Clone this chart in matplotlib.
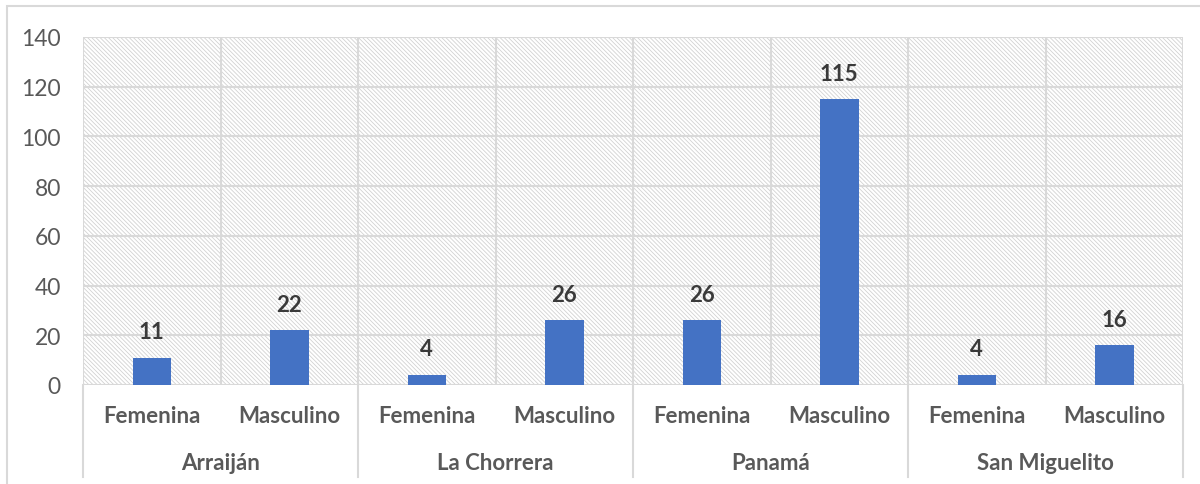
import matplotlib.pyplot as plt
from matplotlib.lines import Line2D
from matplotlib.patches import Rectangle

# data
groups = ["Arraiján", "La Chorrera", "Panamá", "San Miguelito"]
sexes = ["Femenina", "Masculino"]
values = [11, 22, 4, 26, 26, 115, 4, 16]

plt.rcParams['font.family'] = ['Lato', 'DejaVu Sans']
plt.rcParams['hatch.linewidth'] = 0.6

fig = plt.figure(figsize=(12, 4.85), dpi=100)
ax = fig.add_axes([83 / 1200, 1 - 386 / 485, 1100 / 1200, 348 / 485])

grid_c = '#d9d9d9'
ax.patch.set_facecolor('white')
ax.patch.set_edgecolor('#d2d2d2')
ax.patch.set_hatch('\\' * 8)
ax.patch.set_linewidth(0)

n = len(values)
x = list(range(n))
ax.bar(x, values, width=0.28, color='#4472c4', zorder=3)
for xi, v in zip(x, values):
    ax.text(xi, v + 10.5, str(v), ha='center', va='center', fontsize=16,
            fontweight='bold', color='#3a3a3a', zorder=4)

ax.set_xlim(-0.5, n - 0.5)
ax.set_ylim(0, 140)
ax.set_yticks(range(0, 141, 20))
ax.tick_params(axis='y', length=0, labelsize=16.5, labelcolor='#595959', pad=16)
ax.set_xticks([])
for s in ax.spines.values():
    s.set_visible(False)

# gridlines
for yv in range(20, 141, 20):
    ax.axhline(yv, color=grid_c, lw=1.5, zorder=1)
for b in range(n + 1):
    ax.axvline(b - 0.5, color=grid_c, lw=1.5, zorder=1)
ax.axhline(0, color=grid_c, lw=1.5, zorder=2)

# category labels
trans = ax.get_xaxis_transform()
for i in range(n):
    ax.text(i, -31 / 348, sexes[i % 2], transform=trans, ha='center', va='center',
            fontsize=16, fontweight='bold', color='#595959')
for g, name in enumerate(groups):
    ax.text(2 * g + 0.5, -78 / 348, name, transform=trans, ha='center', va='center',
            fontsize=16, fontweight='bold', color='#595959')
for g in range(len(groups) + 1):
    ax.add_line(Line2D([2 * g - 0.5, 2 * g - 0.5], [0, -92 / 348], transform=trans,
                       color=grid_c, lw=1.5, clip_on=False))

# outer chart border
fig.patches.append(Rectangle((7 / 1200, -0.1), 1.2, 1 - 7 / 485 + 0.1,
                             transform=fig.transFigure, fill=False,
                             edgecolor='#d9d9d9', lw=1.5))

fig.savefig('out.png', dpi=100)
